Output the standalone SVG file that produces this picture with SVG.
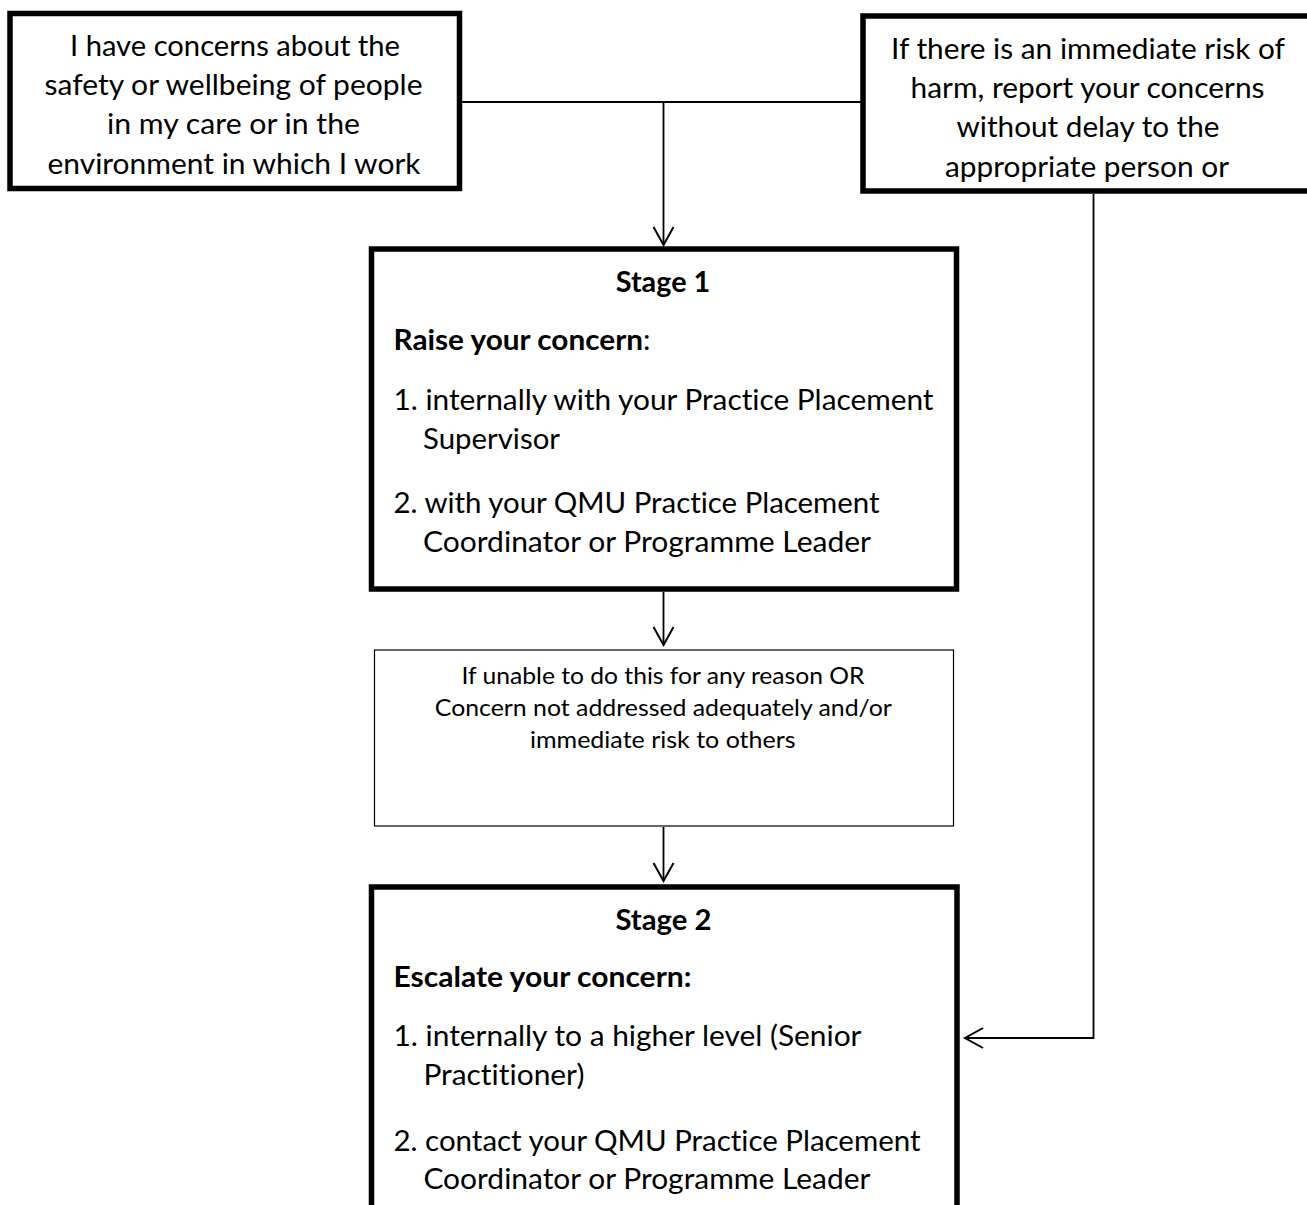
<svg xmlns="http://www.w3.org/2000/svg" width="1307" height="1205" viewBox="0 0 1307 1205">
<style>
  .thick { fill: #fff; stroke: #000; stroke-width: 5.5; }
  .thin { fill: #fff; stroke: #000; stroke-width: 1.2; }
  .t { font-family: Lato, "Liberation Sans", sans-serif; font-size: 28px; fill: #000; font-variant-ligatures: none; }
  .s { font-family: Lato, "Liberation Sans", sans-serif; font-size: 24px; fill: #000; font-variant-ligatures: none; }
  .b { font-weight: bold; }
  .c { text-anchor: middle; }
  .conn { fill: none; stroke: #000; stroke-width: 1.8; }
</style>
<defs>
  <marker id="arr" markerUnits="userSpaceOnUse" markerWidth="24" markerHeight="24" refX="19" refY="11" orient="auto" overflow="visible">
    <path d="M1,1 L19,11 L1,21" fill="none" stroke="#000" stroke-width="2"/>
  </marker>
</defs>
<rect width="1307" height="1205" fill="#fff"/>

<g id="connectors">
  <line class="conn" x1="462" y1="102" x2="861" y2="102"/>
  <line class="conn" x1="663.5" y1="102" x2="663.5" y2="245" marker-end="url(#arr)"/>
  <line class="conn" x1="663.5" y1="592" x2="663.5" y2="645" marker-end="url(#arr)"/>
  <line class="conn" x1="663.5" y1="827" x2="663.5" y2="881" marker-end="url(#arr)"/>
  <polyline class="conn" points="1093.5,194 1093.5,1038 965,1038" marker-end="url(#arr)"/>
</g>

<g id="node-concerns">
  <rect class="thick" x="10" y="13.5" width="449.5" height="175"/>
  <text class="t c" x="235" y="55.5" textLength="330" lengthAdjust="spacingAndGlyphs">I have concerns about the</text>
  <text class="t c" x="233.5" y="95" textLength="378" lengthAdjust="spacingAndGlyphs">safety or wellbeing of people</text>
  <text class="t c" x="233.5" y="134" textLength="253" lengthAdjust="spacingAndGlyphs">in my care or in the</text>
  <text class="t c" x="234" y="173.5" textLength="373" lengthAdjust="spacingAndGlyphs">environment in which I work</text>
</g>

<g id="node-immediate">
  <rect class="thick" x="863" y="16" width="452" height="175"/>
  <text class="t c" x="1088" y="58.5" textLength="394" lengthAdjust="spacingAndGlyphs">If there is an immediate risk of</text>
  <text class="t c" x="1087.5" y="98" textLength="354" lengthAdjust="spacingAndGlyphs">harm, report your concerns</text>
  <text class="t c" x="1088" y="137" textLength="263" lengthAdjust="spacingAndGlyphs">without delay to the</text>
  <text class="t c" x="1087" y="176.5" textLength="284" lengthAdjust="spacingAndGlyphs">appropriate person or</text>
</g>

<g id="node-stage1">
  <rect class="thick" x="371.5" y="249" width="585" height="340"/>
  <text class="t b c" x="663" y="292" textLength="94.5" lengthAdjust="spacingAndGlyphs">Stage 1</text>
  <text class="t" x="393.5" y="350" textLength="257" lengthAdjust="spacingAndGlyphs"><tspan class="b">Raise your concern</tspan>:</text>
  <text class="t" x="393.5" y="410" textLength="540" lengthAdjust="spacingAndGlyphs">1. internally with your Practice Placement</text>
  <text class="t" x="423" y="449" textLength="137" lengthAdjust="spacingAndGlyphs">Supervisor</text>
  <text class="t" x="393.5" y="513" textLength="486" lengthAdjust="spacingAndGlyphs">2. with your QMU Practice Placement</text>
  <text class="t" x="423" y="552" textLength="448" lengthAdjust="spacingAndGlyphs">Coordinator or Programme Leader</text>
</g>

<g id="node-unable">
  <rect class="thin" x="374.5" y="650" width="579" height="176"/>
  <text class="s c" x="663" y="683.5" textLength="403" lengthAdjust="spacingAndGlyphs">If unable to do this for any reason OR</text>
  <text class="s c" x="663.3" y="715.5" textLength="457" lengthAdjust="spacingAndGlyphs">Concern not addressed adequately and/or</text>
  <text class="s c" x="662.8" y="747.5" textLength="265.5" lengthAdjust="spacingAndGlyphs">immediate risk to others</text>
</g>

<g id="node-stage2">
  <rect class="thick" x="371.5" y="887" width="585.5" height="340"/>
  <text class="t b c" x="663.4" y="929.5" textLength="96" lengthAdjust="spacingAndGlyphs">Stage 2</text>
  <text class="t b" x="393.5" y="987" textLength="298" lengthAdjust="spacingAndGlyphs">Escalate your concern:</text>
  <text class="t" x="393.5" y="1046" textLength="468" lengthAdjust="spacingAndGlyphs">1. internally to a higher level (Senior</text>
  <text class="t" x="423.4" y="1085" textLength="161" lengthAdjust="spacingAndGlyphs">Practitioner)</text>
  <text class="t" x="393.5" y="1150.5" textLength="527" lengthAdjust="spacingAndGlyphs">2. contact your QMU Practice Placement</text>
  <text class="t" x="423.4" y="1189" textLength="447" lengthAdjust="spacingAndGlyphs">Coordinator or Programme Leader</text>
</g>
</svg>
